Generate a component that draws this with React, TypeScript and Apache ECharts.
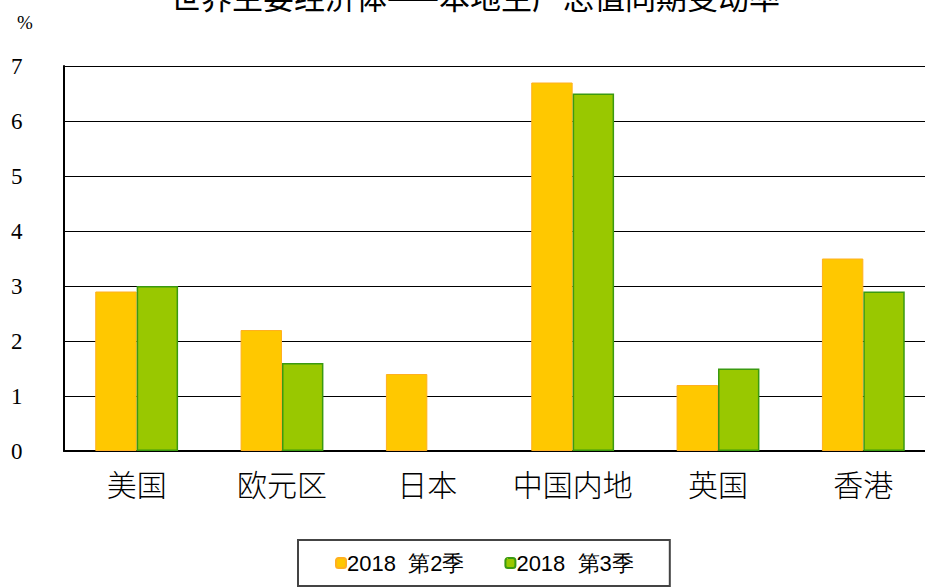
import React, { useEffect, useRef } from "react";
import * as echarts from "echarts";

const categories = ["美国", "欧元区", "日本", "中国内地", "英国", "香港"];
const q2Values = [2.9, 2.2, 1.4, 6.7, 1.2, 3.5];
const q3Values: (number | null)[] = [3.0, 1.6, null, 6.5, 1.5, 2.9];
const seriesNames = ["2018  第2季", "2018  第3季"];
const titleText = "世界主要经济体——本地生产总值同期变动率";
const unitText = "%";

export default function App() {
  const ref = useRef<HTMLDivElement>(null);
  useEffect(() => {
    if (!ref.current) return;
    const chart = echarts.init(ref.current, null, { renderer: "svg" });
    chart.setOption({
      animation: false,
      backgroundColor: "#fff",
      graphic: [
        {
          type: "text",
          x: 475,
          y: 11,
          style: {
            text: titleText,
            fontSize: 31,
            fontFamily: "Noto Sans CJK SC",
            fill: "#000",
            align: "center",
            verticalAlign: "bottom",
          },
        },
        {
          type: "text",
          x: 17,
          y: 22,
          style: {
            text: unitText,
            fontSize: 19,
            fontFamily: "Liberation Serif",
            fill: "#000",
            align: "left",
            verticalAlign: "middle",
          },
        },
      ],
      grid: { left: 64, top: 66, width: 872, height: 385, containLabel: false },
      legend: {
        bottom: 2,
        left: 298,
        itemWidth: 10,
        itemHeight: 10,
        itemGap: 40,
        padding: [12, 36, 12, 37],
        borderColor: "#444",
        borderWidth: 2,
        textStyle: { fontSize: 22, fontFamily: "Liberation Sans", color: "#000", padding: [0, 0, 0, -4] },
        data: seriesNames,
      },
      xAxis: {
        type: "category",
        data: categories,
        axisLine: { show: true, lineStyle: { color: "#000", width: 2 } },
        axisTick: { show: false },
        axisLabel: {
          interval: 0,
          fontSize: 30,
          fontFamily: "Noto Sans CJK SC",
          fontWeight: 300,
          color: "#000",
          margin: 17,
        },
      },
      yAxis: {
        type: "value",
        min: 0,
        max: 7,
        interval: 1,
        axisLine: { show: true, lineStyle: { color: "#000", width: 2 } },
        axisTick: { show: false },
        splitLine: { show: true, lineStyle: { color: "#000", width: 1 } },
        axisLabel: {
          fontSize: 23,
          fontFamily: "Liberation Serif",
          color: "#000",
          align: "left",
          margin: 53,
        },
      },
      series: [
        {
          name: seriesNames[0],
          type: "bar",
          data: q2Values,
          barGap: "0%",
          barCategoryGap: "43%",
          itemStyle: { color: "#FFC800", borderColor: "#FFB020", borderWidth: 1 },
        },
        {
          name: seriesNames[1],
          type: "bar",
          data: q3Values,
          itemStyle: { color: "#99C800", borderColor: "#3A9A10", borderWidth: 1.5 },
        },
      ],
    });
    return () => chart.dispose();
  }, []);
  return (
    <div
      ref={ref}
      style={{ position: "fixed", left: 0, top: 0, width: 940, height: 588 }}
    />
  );
}
